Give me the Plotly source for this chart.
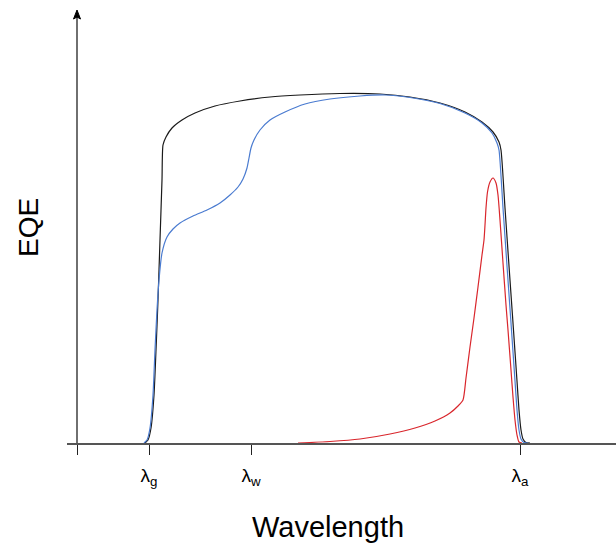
import plotly.graph_objects as go

# Wavelength (arbitrary units, y-axis at 0) and EQE (arbitrary units)
black_x = [68, 71, 74, 77, 79, 81, 83, 85, 86, 89, 95, 105, 118, 138, 163, 193, 223, 263, 303, 333, 363, 388, 405, 416, 422, 424, 428, 432, 436, 440, 442, 444, 446, 449, 453]
black_y = [0, 3, 15, 48, 93, 143, 203, 263, 298, 306, 315, 323, 330, 337, 342, 346, 348, 349.5, 349, 346, 340, 331, 321, 311, 301, 293, 235, 177, 120, 62, 33, 13, 4, 0.5, 0]

blue_x = [67, 70, 73, 76, 78, 80, 82, 85, 90, 96, 103, 116, 130, 143, 153, 161, 166, 170, 172, 174, 177, 183, 193, 208, 228, 253, 283, 308, 333, 363, 388, 405, 415, 420, 422, 426, 430, 434, 438, 440, 442, 444, 447, 451]
blue_y = [0, 3, 15, 48, 93, 133, 163, 190, 206, 214, 220, 227, 233, 240, 248, 256, 264, 275, 285, 295, 303, 313, 323, 331, 339, 344, 347, 348, 345.5, 339.5, 330, 320, 310, 300, 293, 235, 177, 120, 62, 33, 13, 4, 0.5, 0]

red_x = [221, 253, 283, 313, 338, 358, 373, 381, 386, 389, 393, 397, 401, 405, 407, 408, 409, 410.5, 413, 416, 419, 421, 423, 426, 429, 431, 434, 436, 438, 440, 442, 445]
red_y = [0, 1.5, 4, 9, 15, 22, 30, 37, 43, 65, 96, 125, 156, 188, 203, 218, 235, 251, 261, 265, 260, 248, 223, 180, 138, 113, 73, 46, 23, 8, 1, 0]

tick_vals = [0, 72, 174, 443]
tick_text = ["", "λ<sub>g</sub>", "λ<sub>w</sub>", "λ<sub>a</sub>"]

FONT = "Liberation Sans, Arial, sans-serif"

fig = go.Figure()
fig.add_trace(go.Scatter(x=black_x, y=black_y, mode="lines",
                         line=dict(color="#1a1a1a", width=1.2, shape="spline", smoothing=0.6),
                         hoverinfo="skip"))
fig.add_trace(go.Scatter(x=blue_x, y=blue_y, mode="lines",
                         line=dict(color="#4a7bd0", width=1.2, shape="spline", smoothing=0.6),
                         hoverinfo="skip"))
fig.add_trace(go.Scatter(x=red_x, y=red_y, mode="lines",
                         line=dict(color="#d9262c", width=1.2, shape="spline", smoothing=0.6),
                         hoverinfo="skip"))

# y axis line with arrow head
fig.add_shape(type="line", xref="x", yref="y", x0=0, x1=0, y0=0, y1=426,
              line=dict(color="#222222", width=1.3))
fig.add_shape(type="path", xref="x", yref="y",
              path="M -3.5 424 L 0 433 L 3.5 424 L 0 426 Z",
              fillcolor="#000000", line=dict(color="#000000", width=1))

fig.update_layout(
    width=616, height=544,
    margin=dict(l=67, r=0, t=0, b=101),
    paper_bgcolor="white", plot_bgcolor="white",
    showlegend=False,
    xaxis=dict(range=[-10, 539], showgrid=False, zeroline=False,
               showline=True, linecolor="#555555", linewidth=1.5,
               ticks="outside", ticklen=10, tickwidth=1.3, tickcolor="#222222",
               tickvals=tick_vals, ticktext=tick_text, ticklabelstandoff=4,
               tickfont=dict(family=FONT, size=19, color="#000000"),
               fixedrange=True),
    yaxis=dict(range=[0, 443], showgrid=False, zeroline=False, showline=False,
               showticklabels=False, ticks="", fixedrange=True),
    annotations=[
        dict(text="EQE", xref="paper", yref="paper", x=-0.071, y=0.4853,
             xanchor="center", yanchor="middle", textangle=-90, showarrow=False,
             font=dict(family=FONT, size=28, color="#000000")),
        dict(text="Wavelength", xref="paper", yref="paper", x=0.4754, y=-0.1896,
             xanchor="center", yanchor="middle", showarrow=False,
             font=dict(family=FONT, size=29, color="#000000")),
    ],
)

fig.write_html("out.html")
